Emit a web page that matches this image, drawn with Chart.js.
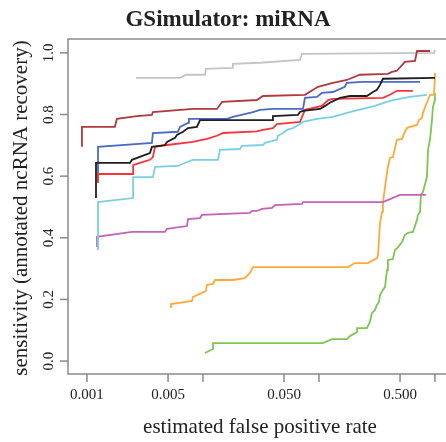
<!DOCTYPE html>
<html>
<head>
  <meta name="viewport" content="width=device-width, initial-scale=1.0">
  <title>GSimulator: miRNA</title>
  <script src="https://cdn.jsdelivr.net/npm/chart.js"></script>
  <style>
    * { margin: 0; padding: 0; box-sizing: border-box; }
    html, body { width: 446px; height: 442px; background: #fff; overflow: hidden; }
    #wrap { width: 446px; height: 442px; }
  </style>
</head>
<body>
  <div id="wrap"><canvas id="roc"></canvas></div>
  <script>
    // --- data: [estimated false positive rate, sensitivity] ---
    const gray = [[0.00264,0.919],[0.00634,0.919],[0.00713,0.929],[0.0104,0.929],[0.0106,0.948],[0.0178,0.951],[0.0181,0.964],[0.031,0.968],[0.0686,0.977],[0.0713,0.997],[0.98,1.0],[1.0,1.01]];
    const darkred = [[0.000905,0.695],[0.000905,0.76],[0.00174,0.76],[0.00181,0.786],[0.0027,0.795],[0.00363,0.799],[0.0037,0.808],[0.0082,0.818],[0.0132,0.818],[0.0146,0.841],[0.0292,0.847],[0.0329,0.86],[0.0757,0.864],[0.098,0.89],[0.132,0.903],[0.174,0.912],[0.225,0.929],[0.393,0.932],[0.426,0.938],[0.47,0.942],[0.551,0.971],[0.673,0.974],[0.70,1.006],[0.906,1.006]];
    const blue = [[0.001245,0.581],[0.001245,0.695],[0.00363,0.708],[0.0037,0.74],[0.00608,0.744],[0.00634,0.76],[0.00743,0.773],[0.00757,0.786],[0.0161,0.786],[0.0181,0.792],[0.027,0.808],[0.031,0.815],[0.0401,0.818],[0.0728,0.818],[0.0757,0.854],[0.0961,0.857],[0.106,0.870],[0.132,0.873],[0.167,0.89],[0.174,0.903],[0.239,0.906],[0.743,0.906]];
    const black = [[0.001196,0.529],[0.001196,0.643],[0.00235,0.643],[0.00244,0.653],[0.00349,0.675],[0.00363,0.695],[0.0047,0.701],[0.0049,0.711],[0.00574,0.724],[0.00597,0.734],[0.00673,0.744],[0.00743,0.756],[0.00887,0.76],[0.00942,0.782],[0.0394,0.782],[0.0401,0.795],[0.0659,0.799],[0.0686,0.808],[0.0728,0.812],[0.102,0.818],[0.113,0.828],[0.124,0.838],[0.152,0.854],[0.185,0.86],[0.259,0.86],[0.292,0.873],[0.316,0.88],[0.336,0.896],[0.356,0.916],[1.0,0.919]];
    const red = [[0.001245,0.578],[0.001245,0.607],[0.0025,0.607],[0.0025,0.636],[0.00286,0.643],[0.00349,0.653],[0.0037,0.662],[0.00386,0.695],[0.0049,0.701],[0.0082,0.711],[0.0108,0.721],[0.0132,0.731],[0.0149,0.74],[0.0292,0.745],[0.0329,0.75],[0.0401,0.756],[0.0434,0.769],[0.0686,0.776],[0.0757,0.815],[0.106,0.828],[0.12,0.847],[0.132,0.851],[0.356,0.854],[0.409,0.864],[0.47,0.877],[0.646,0.877]];
    const cyan = [[0.001245,0.36],[0.001245,0.516],[0.0025,0.529],[0.0025,0.597],[0.0037,0.597],[0.00386,0.63],[0.00608,0.633],[0.00728,0.646],[0.0082,0.653],[0.01346,0.653],[0.014,0.685],[0.0208,0.688],[0.0217,0.698],[0.0329,0.701],[0.0342,0.708],[0.0434,0.718],[0.0443,0.731],[0.049,0.74],[0.053,0.75],[0.0597,0.756],[0.0686,0.769],[0.0728,0.776],[0.0961,0.786],[0.132,0.792],[0.174,0.805],[0.239,0.818],[0.304,0.828],[0.386,0.841],[0.434,0.847],[0.608,0.857],[0.853,0.864]];
    const magenta = [[0.00122,0.37],[0.00122,0.403],[0.00244,0.419],[0.0047,0.419],[0.0049,0.429],[0.00728,0.438],[0.00743,0.461],[0.00942,0.464],[0.0098,0.474],[0.0254,0.481],[0.0264,0.487],[0.0292,0.487],[0.0323,0.494],[0.0394,0.497],[0.0418,0.506],[0.0713,0.51],[0.0728,0.516],[0.356,0.516],[0.499,0.539],[0.836,0.539]];
    const orange = [[0.0053,0.172],[0.0053,0.185],[0.00804,0.195],[0.0082,0.208],[0.0106,0.227],[0.0108,0.247],[0.0122,0.25],[0.0127,0.263],[0.0181,0.263],[0.023,0.269],[0.0254,0.286],[0.027,0.305],[0.178,0.305],[0.204,0.318],[0.264,0.318],[0.316,0.334],[0.323,0.344],[0.336,0.448],[0.35,0.484],[0.356,0.513],[0.378,0.588],[0.393,0.63],[0.409,0.659],[0.434,0.662],[0.47,0.718],[0.52,0.721],[0.551,0.744],[0.574,0.756],[0.608,0.76],[0.70,0.766],[0.728,0.782],[0.773,0.789],[0.788,0.805],[0.836,0.831],[0.871,0.847],[0.906,0.864],[0.98,0.864],[1.0,0.922],[1.0,0.935]];
    const green = [[0.0104,0.026],[0.0122,0.039],[0.0122,0.058],[0.108,0.058],[0.129,0.071],[0.174,0.071],[0.185,0.081],[0.213,0.094],[0.213,0.107],[0.259,0.107],[0.275,0.127],[0.286,0.156],[0.304,0.166],[0.316,0.182],[0.329,0.192],[0.336,0.214],[0.356,0.231],[0.371,0.24],[0.386,0.295],[0.393,0.328],[0.434,0.331],[0.452,0.36],[0.48,0.37],[0.52,0.386],[0.551,0.409],[0.585,0.416],[0.646,0.419],[0.70,0.458],[0.713,0.474],[0.743,0.484],[0.757,0.539],[0.788,0.549],[0.853,0.597],[0.871,0.685],[0.906,0.718],[0.942,0.782],[0.961,0.825],[1.0,0.847],[1.0,0.870]];

    const xTicks = [0.001, 0.005, 0.01, 0.05, 0.1, 0.5, 1];
    const xTickLabels = ['0.001', '0.005', '', '0.050', '', '0.500', ''];
    const yTicks = [0, 0.2, 0.4, 0.6, 0.8, 1.0];
    const yTickLabels = ['0.0', '0.2', '0.4', '0.6', '0.8', '1.0'];

    const serif = '"Liberation Serif", "DejaVu Serif", serif';

    // series in drawing order, first one ends up on top
    const series = [
      { data: black,   color: '#1e1e1e' },
      { data: red,     color: '#f7343b' },
      { data: blue,    color: '#4c69c4' },
      { data: darkred, color: '#b0393e' },
      { data: cyan,    color: '#78d0e2' },
      { data: gray,    color: '#c4c4c4' },
      { data: magenta, color: '#c462b6' },
      { data: orange,  color: '#fdaa38' },
      { data: green,   color: '#7dc64f' }
    ];

    // frame, ticks and labels in R style
    const rAxes = {
      id: 'rAxes',
      afterDraw(chart) {
        const { ctx, chartArea: a, scales: { x, y } } = chart;
        ctx.save();
        ctx.strokeStyle = '#8a8a8a';
        ctx.lineWidth = 1.5;
        ctx.beginPath();
        ctx.moveTo(a.right + 5, a.top);
        ctx.lineTo(a.left, a.top);
        ctx.lineTo(a.left, a.bottom);
        ctx.lineTo(a.right + 5, a.bottom);
        ctx.stroke();

        ctx.fillStyle = '#222';
        ctx.font = '15px ' + serif;
        ctx.textAlign = 'center';
        ctx.textBaseline = 'middle';
        xTicks.forEach((v, i) => {
          const px = x.getPixelForValue(v);
          ctx.beginPath();
          ctx.moveTo(px, a.bottom);
          ctx.lineTo(px, a.bottom + 8);
          ctx.stroke();
          if (xTickLabels[i]) ctx.fillText(xTickLabels[i], px, a.bottom + 21);
        });
        yTicks.forEach((v, i) => {
          const py = y.getPixelForValue(v);
          ctx.beginPath();
          ctx.moveTo(a.left, py);
          ctx.lineTo(a.left - 8, py);
          ctx.stroke();
          ctx.save();
          ctx.translate(a.left - 19, py);
          ctx.rotate(-Math.PI / 2);
          ctx.fillText(yTickLabels[i], 0, 0);
          ctx.restore();
        });

        ctx.font = '21px ' + serif;
        ctx.fillText('estimated false positive rate', 260, 427);
        ctx.save();
        ctx.translate(21, 208);
        ctx.rotate(-Math.PI / 2);
        ctx.fillText('sensitivity (annotated ncRNA recovery)', 0, 0);
        ctx.restore();

        ctx.font = 'bold 23px ' + serif;
        ctx.fillText('GSimulator: miRNA', 228, 20);
        ctx.restore();
      }
    };

    new Chart(document.getElementById('roc'), {
      type: 'line',
      data: {
        datasets: series.map(s => ({
          data: s.data.map(p => ({ x: p[0], y: p[1] })),
          borderColor: s.color,
          borderWidth: 1.8,
          pointRadius: 0,
          tension: 0,
          fill: false
        }))
      },
      options: {
        responsive: true,
        maintainAspectRatio: false,
        animation: false,
        layout: { padding: { left: 68, top: 39, right: 0, bottom: 68 } },
        plugins: { legend: { display: false }, tooltip: { enabled: false }, title: { display: false } },
        scales: {
          x: { type: 'logarithmic', display: false, min: 0.000686, max: 1.245 },
          y: { type: 'linear', display: false, min: -0.042, max: 1.045 }
        }
      },
      plugins: [rAxes]
    });
  </script>
</body>
</html>
